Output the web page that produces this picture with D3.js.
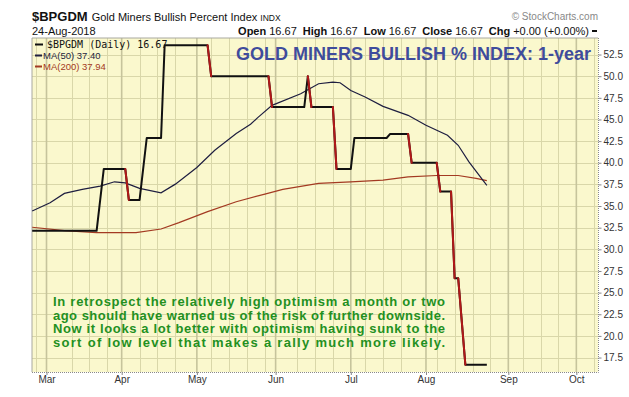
<!DOCTYPE html>
<html>
<head>
<meta charset="utf-8">
<script src="https://cdn.jsdelivr.net/npm/d3@7"></script>
<style>
  body { margin: 0; background: #fff; }
  svg { display: block; font-family: "Liberation Sans", Arial, sans-serif; }
</style>
</head>
<body>
<div id="chart"></div>
<script>
// Values (trading-day x axis, like StockCharts)
const holidays = ["2018-02-19", "2018-03-30", "2018-05-28", "2018-07-04", "2018-09-03"];

const bpiDates = ["2018-02-23", "2018-03-21", "2018-03-23", "2018-04-03", "2018-04-04", "2018-04-09",
  "2018-04-11", "2018-04-17", "2018-04-18", "2018-05-04", "2018-05-07", "2018-05-30", "2018-05-31",
  "2018-06-13", "2018-06-14", "2018-06-15", "2018-06-25", "2018-06-26", "2018-07-02", "2018-07-03",
  "2018-07-17", "2018-07-18", "2018-07-25", "2018-07-26", "2018-08-06", "2018-08-07", "2018-08-10",
  "2018-08-13", "2018-08-14", "2018-08-16", "2018-08-24"];
const bpiValues = [32.14, 32.14, 39.29, 39.29, 35.71, 35.71,
  42.86, 42.86, 53.57, 53.57, 50.00, 50.00, 46.43,
  46.43, 50.00, 46.43, 46.43, 39.29, 39.29, 42.86,
  42.86, 43.33, 43.33, 40.00, 40.00, 36.67, 36.67,
  26.67, 26.67, 16.67, 16.67];

const ma50Dates = ["2018-02-23", "2018-03-02", "2018-03-08", "2018-03-15", "2018-03-22", "2018-03-28",
  "2018-04-03", "2018-04-09", "2018-04-17", "2018-04-23", "2018-05-01", "2018-05-08", "2018-05-16",
  "2018-05-22", "2018-05-24", "2018-05-31", "2018-06-12", "2018-06-19", "2018-06-25", "2018-06-27",
  "2018-07-02", "2018-07-09", "2018-07-16", "2018-07-25", "2018-08-01", "2018-08-09", "2018-08-14",
  "2018-08-17", "2018-08-24"];
const ma50Values = [34.43, 35.38, 36.46, 36.92, 37.30, 37.80,
  37.68, 37.04, 36.53, 37.53, 39.46, 41.45, 43.37,
  44.44, 45.21, 46.63, 47.97, 49.13, 49.31, 49.24,
  48.35, 47.59, 46.51, 45.48, 44.33, 43.17, 42.02,
  40.10, 37.40];

const ma200Dates = ["2018-02-23", "2018-03-08", "2018-03-21", "2018-04-06", "2018-04-17", "2018-04-24",
  "2018-05-04", "2018-05-16", "2018-05-29", "2018-06-05", "2018-06-19", "2018-07-02", "2018-07-16",
  "2018-07-25", "2018-08-06", "2018-08-14", "2018-08-21", "2018-08-24"];
const ma200Values = [32.55, 32.16, 31.93, 31.93, 32.35, 33.08,
  34.35, 35.50, 36.38, 36.92, 37.61, 37.80, 37.99,
  38.37, 38.53, 38.53, 38.19, 37.94];

const yTicks = [17.5, 20, 22.5, 25, 27.5, 30, 32.5, 35, 37.5, 40, 42.5, 45, 47.5, 50, 52.5];
const monthLabels = ["Mar", "Apr", "May", "Jun", "Jul", "Aug", "Sep", "Oct"];

const noteLines = [
  "In retrospect the relatively high optimism a month or two",
  "ago should have warned us of the risk of further downside.",
  "Now it looks a lot better with optimism having sunk to the",
  "sort of low level that makes a rally much more likely."
];

// Trading-day calendar
const fmt = d3.timeFormat("%Y-%m-%d");
const tradingDays = d3.timeDay.range(new Date(2018, 1, 20), new Date(2018, 9, 20))
  .filter(d => d.getDay() !== 0 && d.getDay() !== 6 && !holidays.includes(fmt(d)));
const dayKeys = tradingDays.map(fmt);
const base = dayKeys.indexOf("2018-03-01");
const dayIndex = s => dayKeys.indexOf(s) - base;

// Layout
const W = 629, H = 397;
const plot = {left: 32, right: 598, top: 38, bottom: 372};

const x = d3.scaleLinear().domain([-4.05, 154.05]).range([plot.left, plot.right]);
const y = d3.scaleLinear().domain([15.83, 54.41]).range([plot.bottom, plot.top]);

const svg = d3.select("#chart").append("svg")
  .attr("width", W).attr("height", H);

// Plot background
svg.append("rect")
  .attr("x", plot.left).attr("y", plot.top)
  .attr("width", plot.right - plot.left).attr("height", plot.bottom - plot.top)
  .attr("fill", "#faf8cd");

// Month starts and week starts (first trading day)
const monthIdx = [];
const weekIdx = [];
tradingDays.forEach((d, i) => {
  const idx = i - base;
  const prev = tradingDays[i - 1];
  if (!prev) return;
  if (prev.getMonth() !== d.getMonth() && d.getMonth() >= 2 && d.getMonth() <= 9) monthIdx.push(idx);
  if (+d3.timeMonday.floor(prev) !== +d3.timeMonday.floor(d)) weekIdx.push(idx);
});
const domainX = x.domain();
const weekLines = weekIdx.filter(w => w > domainX[0] && w < domainX[1] &&
  monthIdx.every(m => Math.abs(w - m) >= 3));

const grid = svg.append("g");
grid.selectAll(".hg").data(yTicks).join("line")
  .attr("x1", plot.left).attr("x2", plot.right)
  .attr("y1", d => Math.round(y(d)) + 0.5).attr("y2", d => Math.round(y(d)) + 0.5)
  .attr("stroke", "#d9d7a9").attr("stroke-width", 1);
grid.selectAll(".wg").data(weekLines).join("line")
  .attr("x1", d => Math.round(x(d)) + 0.5).attr("x2", d => Math.round(x(d)) + 0.5)
  .attr("y1", plot.top).attr("y2", plot.bottom)
  .attr("stroke", "#d9d7a9").attr("stroke-width", 1);
grid.selectAll(".mg").data(monthIdx).join("line")
  .attr("x1", d => x(d)).attr("x2", d => x(d))
  .attr("y1", plot.top).attr("y2", plot.bottom)
  .attr("stroke", "#c6c49c").attr("stroke-width", 1.6);

// Frame
svg.append("path")
  .attr("d", `M${plot.right},${plot.top}H${plot.left}V${plot.bottom}`)
  .attr("fill", "none").attr("stroke", "#a8a8a0");
svg.append("path")
  .attr("d", `M${plot.left},${plot.bottom + 0.5}H${plot.right + 0.5}V${plot.top}`)
  .attr("fill", "none").attr("stroke", "#8a8a8a").attr("stroke-dasharray", "1,1");

// Axes
const yAxis = d3.axisRight(y).tickValues(yTicks).tickFormat(d3.format(".1f"))
  .tickSize(3).tickPadding(2);
const gy = svg.append("g").attr("transform", `translate(${plot.right + 0.5},0)`).call(yAxis);
gy.select(".domain").remove();
gy.selectAll("line").attr("stroke", "#888");
gy.selectAll("text").attr("font-size", 10).attr("fill", "#333")
  .attr("font-family", "Liberation Sans, Arial, sans-serif");

const xAxis = d3.axisBottom(x).tickValues(monthIdx)
  .tickFormat((d, i) => monthLabels[i]).tickSize(3).tickPadding(1);
const gx = svg.append("g").attr("transform", `translate(0,${plot.bottom})`).call(xAxis);
gx.select(".domain").remove();
gx.selectAll("line").attr("stroke", "#888");
gx.selectAll("text").attr("font-size", 10).attr("fill", "#333")
  .attr("font-family", "Liberation Sans, Arial, sans-serif");

// Series
const toPts = (dates, vals) => dates.map((d, i) => [dayIndex(d), vals[i]]);
const line = d3.line().x(d => x(d[0])).y(d => y(d[1]));

const ma200 = toPts(ma200Dates, ma200Values);
const ma50 = toPts(ma50Dates, ma50Values);
const bpi = toPts(bpiDates, bpiValues);

svg.append("path").datum(ma200).attr("d", line)
  .attr("fill", "none").attr("stroke", "#a33a22").attr("stroke-width", 1.2);
svg.append("path").datum(ma50).attr("d", line)
  .attr("fill", "none").attr("stroke", "#1e1e40").attr("stroke-width", 1.2);

svg.append("path").datum(bpi).attr("d", line)
  .attr("fill", "none").attr("stroke", "#111").attr("stroke-width", 2)
  .attr("stroke-linejoin", "round");
svg.selectAll(".down").data(d3.pairs(bpi).filter(p => p[1][1] < p[0][1])).join("line")
  .attr("x1", p => x(p[0][0])).attr("y1", p => y(p[0][1]))
  .attr("x2", p => x(p[1][0])).attr("y2", p => y(p[1][1]))
  .attr("stroke", "#b01818").attr("stroke-width", 2).attr("stroke-linecap", "round");

// Legend
const legend = svg.append("g");
legend.append("line").attr("x1", 35).attr("x2", 43).attr("y1", 44.5).attr("y2", 44.5)
  .attr("stroke", "#111").attr("stroke-width", 2);
legend.append("text").attr("x", 47).attr("y", 48)
  .attr("font-family", "DejaVu Sans Mono, monospace").attr("font-size", 10).attr("fill", "#111")
  .text("$BPGDM (Daily) 16.67");
legend.append("line").attr("x1", 35).attr("x2", 42).attr("y1", 55.5).attr("y2", 55.5)
  .attr("stroke", "#1e1e40").attr("stroke-width", 2);
legend.append("text").attr("x", 43).attr("y", 59).attr("font-size", 9.5).attr("fill", "#1e1e40")
  .text("MA(50) 37.40");
legend.append("line").attr("x1", 35).attr("x2", 42).attr("y1", 66.5).attr("y2", 66.5)
  .attr("stroke", "#a33a22").attr("stroke-width", 2);
legend.append("text").attr("x", 43).attr("y", 70).attr("font-size", 9.5).attr("fill", "#a33a22")
  .text("MA(200) 37.94");

// Title inside plot
svg.append("text").attr("x", 591).attr("y", 60).attr("text-anchor", "end")
  .attr("font-size", 18).attr("font-weight", "bold").attr("fill", "#3f4c9c")
  .text("GOLD MINERS BULLISH % INDEX: 1-year");

// Header
const head = svg.append("text").attr("x", 32).attr("y", 21).attr("fill", "#111");
head.append("tspan").attr("font-size", 13).attr("font-weight", "bold").text("$BPGDM");
head.append("tspan").attr("font-size", 11).attr("dx", 4).text("Gold Miners Bullish Percent Index");
head.append("tspan").attr("font-size", 8.5).attr("dx", 3).text("INDX");

svg.append("text").attr("x", 32).attr("y", 34.5).attr("font-size", 11).attr("fill", "#111")
  .text("24-Aug-2018");

svg.append("text").attr("x", 598).attr("y", 20).attr("text-anchor", "end")
  .attr("font-size", 10).attr("fill", "#888").text("\u00A9 StockCharts.com");

const quote = [["Open", "16.67"], ["High", "16.67"], ["Low", "16.67"], ["Close", "16.67"], ["Chg", "+0.00 (+0.00%)"]];
const qt = svg.append("text").attr("x", 589).attr("y", 35).attr("text-anchor", "end")
  .attr("font-size", 11).attr("fill", "#111");
quote.forEach((q, i) => {
  qt.append("tspan").attr("font-weight", "bold").attr("dx", i ? 6 : 0).text(q[0]);
  qt.append("tspan").attr("dx", 3).text(q[1]);
});
svg.append("line").attr("x1", 592).attr("x2", 597).attr("y1", 31).attr("y2", 31)
  .attr("stroke", "#111").attr("stroke-width", 2);

// Annotation
svg.append("g").selectAll("text").data(noteLines).join("text")
  .attr("x", 53).attr("y", (d, i) => 306 + i * 13.7)
  .attr("font-size", 13).attr("font-weight", "bold").attr("fill", "#23901f")
  .attr("textLength", 392).attr("lengthAdjust", "spacing")
  .text(d => d);
</script>
</body>
</html>
